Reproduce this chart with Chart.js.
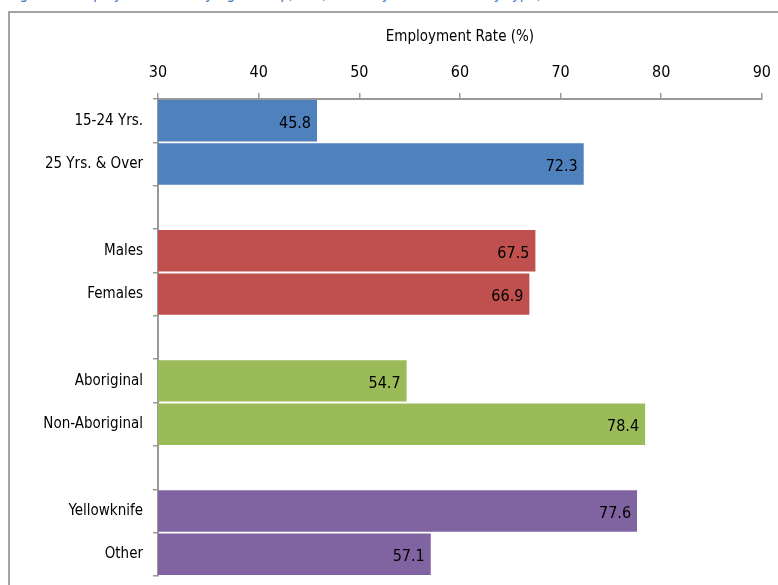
<!DOCTYPE html>
<html>
<head>
<meta charset="utf-8">
<script src="https://cdn.jsdelivr.net/npm/chart.js@4/dist/chart.umd.min.js"></script>
<style>
  html, body { margin: 0; padding: 0; background: #fff; overflow: hidden; }
  #wrap { position: relative; width: 778px; height: 585px; overflow: hidden; }
  #cut-title { position: absolute; left: 9px; top: -13px; font: 15px 'Liberation Sans Narrow', 'DejaVu Sans Condensed', sans-serif; line-height: 15px; color: #3f77c4; white-space: nowrap; }
  #frame { position: absolute; left: 8px; top: 11px; width: 800px; height: 600px; border-top: 2px solid #a3a3a3; border-left: 2px solid #a3a3a3; }
  canvas { position: absolute; left: 0; top: 0; }
</style>
</head>
<body>
<div id="wrap">
  <div id="cut-title">Figure 4. Employment Rate by Age Group, Sex, Ethnicity and Community Type, 2014</div>
  <div id="frame"></div>
  <canvas id="empChart" width="782" height="595"></canvas>
</div>
<script>
// categories (blank ones are the gaps between groups)
const categories = ['15-24 Yrs.', '25 Yrs. & Over', '', 'Males', 'Females', '', 'Aboriginal', 'Non-Aboriginal', '', 'Yellowknife', 'Other'];
const rates = [45.8, 72.3, null, 67.5, 66.9, null, 54.7, 78.4, null, 77.6, 57.1];
const barColors = ['#4f81bd', '#4f81bd', null, '#c0504d', '#c0504d', null, '#9bbb59', '#9bbb59', null, '#8064a2', '#8064a2'];
const xTicks = [30, 40, 50, 60, 70, 80, 90];

const FONT = "'Liberation Sans Narrow', 'DejaVu Sans Condensed', sans-serif";

// value labels inside the bar end
const barLabels = {
    id: 'barLabels',
    afterDatasetsDraw: function(chart) {
        const ctx = chart.ctx;
        const meta = chart.getDatasetMeta(0);
        ctx.save();
        ctx.font = '16px ' + FONT;
        ctx.fillStyle = '#000';
        ctx.textAlign = 'right';
        ctx.textBaseline = 'middle';
        meta.data.forEach((bar, i) => {
            if (rates[i] == null) return;
            ctx.fillText(rates[i].toFixed(1), bar.x - 6, bar.y + 3);
        });
        ctx.restore();
    }
};

new Chart(document.getElementById('empChart'), {
    type: 'bar',
    data: {
        labels: categories,
        datasets: [{
            data: rates,
            backgroundColor: barColors,
            categoryPercentage: 1,
            barPercentage: 0.955
        }]
    },
    options: {
        indexAxis: 'y',
        responsive: false,
        animation: false,
        layout: { padding: { left: 0, right: 12, top: 0, bottom: 0 } },
        plugins: { legend: { display: false }, tooltip: { enabled: false } },
        scales: {
            x: {
                position: 'top',
                min: 30,
                max: 90,
                afterBuildTicks: function(scale) { scale.ticks = xTicks.map(v => ({ value: v })); },
                afterFit: function(scale) { scale.height = 99; },
                title: {
                    display: true,
                    text: 'Employment Rate (%)',
                    color: '#000',
                    font: { family: FONT, size: 15 },
                    padding: { top: 28, bottom: 0 }
                },
                ticks: { color: '#000', font: { family: FONT, size: 16 }, padding: 11 },
                grid: { drawOnChartArea: false, tickLength: 6, color: '#999', lineWidth: 1.5 },
                border: { color: '#999', width: 2 }
            },
            y: {
                afterFit: function(scale) { scale.width = 158; },
                ticks: { color: '#000', font: { family: FONT, size: 15 }, padding: 10 },
                grid: { drawOnChartArea: false, tickLength: 5, color: '#999', lineWidth: 1.5, offset: true },
                border: { color: '#999', width: 2 }
            }
        }
    },
    plugins: [barLabels]
});
</script>
</body>
</html>
